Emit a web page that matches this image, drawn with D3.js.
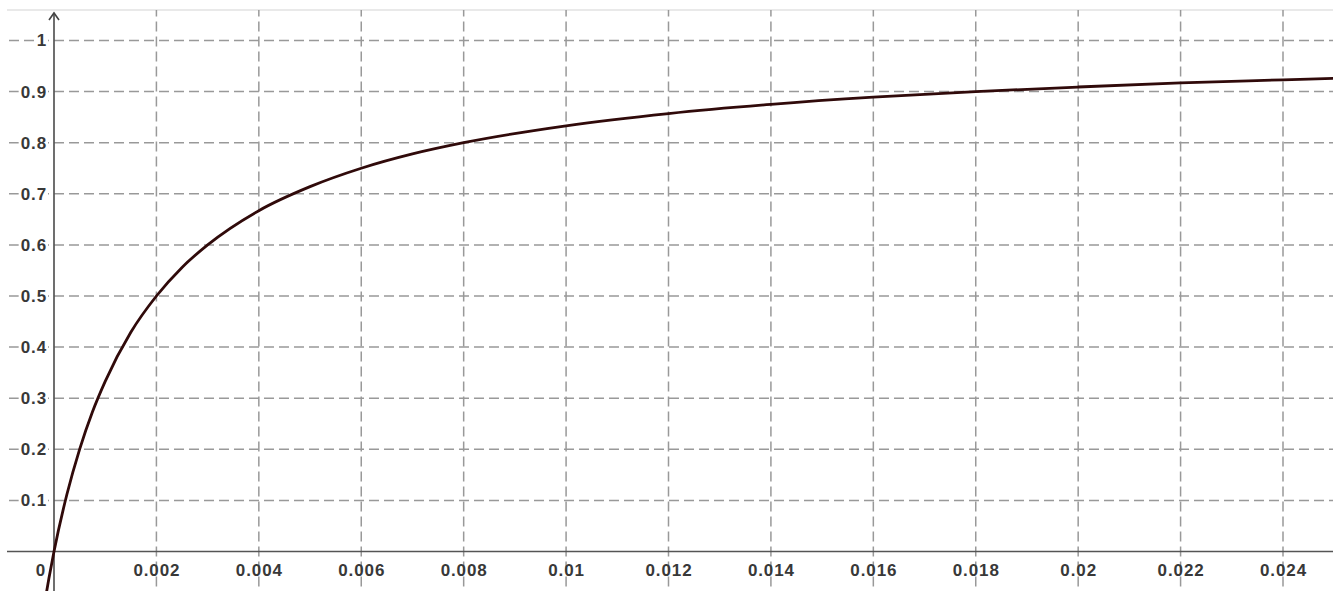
<!DOCTYPE html>
<html><head><meta charset="utf-8">
<script src="https://cdn.jsdelivr.net/npm/d3@7"></script>
<style>body{margin:0;background:#fff}svg{display:block}</style>
</head><body>
<script>
const xTicks = [0.002,0.004,0.006,0.008,0.01,0.012,0.014,0.016,0.018,0.02,0.022,0.024];
const xTickLabels = ["0.002","0.004","0.006","0.008","0.01","0.012","0.014","0.016","0.018","0.02","0.022","0.024"];
const yTicks = [0.1,0.2,0.3,0.4,0.5,0.6,0.7,0.8,0.9,1];
const yTickLabels = ["0.1","0.2","0.3","0.4","0.5","0.6","0.7","0.8","0.9","1"];
const curveX = [-0.00018,-0.0001,0,0.00025,0.0005,0.00075,0.001,0.0015,0.002,0.0025,0.003,0.004,0.005,0.006,0.007,0.008,0.01,0.012,0.014,0.016,0.018,0.02,0.022,0.024,0.025];
const curveY = [-0.099,-0.053,0,0.111,0.2,0.273,0.333,0.429,0.5,0.556,0.6,0.667,0.714,0.75,0.778,0.8,0.833,0.857,0.875,0.889,0.9,0.909,0.917,0.923,0.926];

const W=1333,H=591;
const svg=d3.select("body").append("svg").attr("width",W).attr("height",H);
const x=d3.scaleLinear().domain([0,0.024]).range([54,1283]);
const y=d3.scaleLinear().domain([0,1]).range([551.5,40.5]);
const plotLeft=7, plotTop=10;
const period=15;
const mod=(a,m)=>((a%m)+m)%m;

svg.append("line").attr("x1",plotLeft).attr("x2",W).attr("y1",plotTop).attr("y2",plotTop).attr("stroke","#e2e2e2").attr("stroke-width",1.5);

const grid=svg.append("g").attr("stroke","#999").attr("stroke-width",1.5).attr("stroke-dasharray","10,5");
grid.selectAll("line.v").data(xTicks).join("line").attr("class","v")
  .attr("x1",d=>x(d)).attr("x2",d=>x(d)).attr("y1",plotTop).attr("y2",H)
  .attr("stroke-dashoffset",mod(-(y(0)-5-plotTop),period));
grid.selectAll("line.h").data(yTicks).join("line").attr("class","h")
  .attr("x1",plotLeft).attr("x2",W).attr("y1",d=>y(d)).attr("y2",d=>y(d))
  .attr("stroke-dashoffset",mod(-(x(0)-plotLeft),period));

// axes
svg.append("line").attr("x1",plotLeft).attr("x2",W).attr("y1",y(0)).attr("y2",y(0)).attr("stroke","#555").attr("stroke-width",1.7);
svg.append("line").attr("x1",x(0)).attr("x2",x(0)).attr("y1",14).attr("y2",H).attr("stroke","#555").attr("stroke-width",1.7);
svg.append("path").attr("d",`M${x(0)-5},${20} L${x(0)},${13} L${x(0)+5},${20}`).attr("fill","none").attr("stroke","#444").attr("stroke-width",1.6);

const font="'Liberation Sans', Arial, sans-serif";
const styleText=s=>s.attr("font-family",font).attr("font-size",17).attr("font-weight",600)
  .attr("letter-spacing","0.9px").attr("fill","#383838");
// y labels
const yl=svg.append("g");
yTicks.forEach((d,i)=>{
  const t=yl.append("text").attr("x",47).attr("y",y(d)).attr("dy","0.35em").attr("text-anchor","end")
    .call(styleText).text(yTickLabels[i]);
  const b=t.node().getBBox();
  yl.insert("rect","text").attr("x",b.x-2).attr("y",b.y+2).attr("width",b.width+3).attr("height",b.height-4).attr("fill","#fff");
});
// x labels
const xl=svg.append("g");
xTicks.forEach((d,i)=>{
  xl.append("text").attr("x",x(d)+0.5).attr("y",570.5).attr("dy","0.35em").attr("text-anchor","middle")
    .call(styleText).text(xTickLabels[i]);
});
xl.append("text").attr("x",41).attr("y",570.5).attr("dy","0.35em").attr("text-anchor","middle")
  .call(styleText).text("0");

// curve
const pts=curveX.map((d,i)=>[d,curveY[i]]);
svg.append("path").datum(pts)
  .attr("d",d3.line().x(d=>x(d[0])).y(d=>y(d[1])).curve(d3.curveMonotoneX))
  .attr("fill","none").attr("stroke","#300a0a").attr("stroke-width",2.8);
</script>
</body></html>
